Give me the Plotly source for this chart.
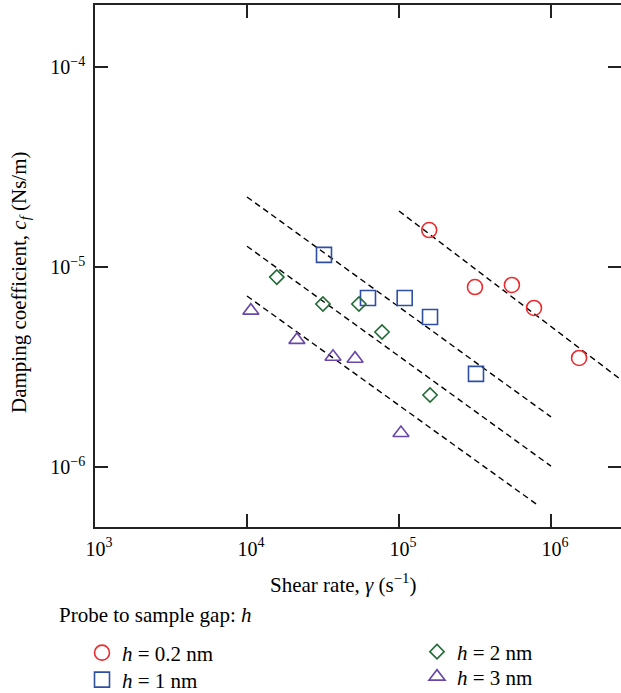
import plotly.graph_objects as go

# ---- data ----
series_names = ["<i>h</i> = 0.2 nm", "<i>h</i> = 1 nm", "<i>h</i> = 2 nm", "<i>h</i> = 3 nm"]

x_02 = [1.58e5, 3.16e5, 5.53e5, 7.73e5, 1.53e6]
y_02 = [1.53e-5, 7.94e-6, 8.13e-6, 6.24e-6, 3.51e-6]

x_1 = [3.21e4, 6.25e4, 1.09e5, 1.60e5, 3.21e5]
y_1 = [1.15e-5, 7.0e-6, 7.0e-6, 5.62e-6, 2.92e-6]

x_2 = [1.57e4, 3.16e4, 5.45e4, 7.73e4, 1.60e5]
y_2 = [8.9e-6, 6.53e-6, 6.53e-6, 4.73e-6, 2.29e-6]

x_3 = [1.06e4, 2.13e4, 3.68e4, 5.14e4, 1.03e5]
y_3 = [6.05e-6, 4.32e-6, 3.56e-6, 3.48e-6, 1.48e-6]

# dashed fit lines (start / end)
fit_x0 = [1e5, 1e4, 1e4, 1e4]
fit_x1 = [2.8e6, 1e6, 1e6, 8.34e5]
fit_y0 = [1.905e-5, 2.24e-5, 1.27e-5, 7.16e-6]
fit_y1 = [2.78e-6, 1.78e-6, 1.01e-6, 6.38e-7]

x_tickvals = [1e3, 1e4, 1e5, 1e6]
x_ticktext = ["10<sup>3</sup>", "10<sup>4</sup>", "10<sup>5</sup>", "10<sup>6</sup>"]
y_tickvals = [1e-6, 1e-5, 1e-4]
y_ticktext = ["10<sup>−6</sup>", "10<sup>−5</sup>", "10<sup>−4</sup>"]

W, H = 621, 693
FONT = "Liberation Serif"
L, R, T, B = 95, 0, 5, 166
PW, PH = W - L - R, H - T - B

red = "#ec2b2f"
blue = "#2f4fa5"
green = "#236b36"
purple = "#6a48a8"

fig = go.Figure()

for i in range(len(fit_x0)):
    fig.add_trace(go.Scatter(
        x=[fit_x0[i], fit_x1[i]], y=[fit_y0[i], fit_y1[i]], mode="lines",
        line=dict(color="black", width=1.4, dash="6px,4px"),
        showlegend=False, hoverinfo="skip"))

marker_line = 1.6
fig.add_trace(go.Scatter(x=x_02, y=y_02, mode="markers", name=series_names[0], legend="legend",
                         marker=dict(symbol="circle-open", size=15, color=red,
                                     line=dict(width=marker_line, color=red))))
fig.add_trace(go.Scatter(x=x_1, y=y_1, mode="markers", name=series_names[1], legend="legend2",
                         marker=dict(symbol="square-open", size=15, color=blue,
                                     line=dict(width=marker_line, color=blue))))
fig.add_trace(go.Scatter(x=x_2, y=y_2, mode="markers", name=series_names[2], legend="legend3",
                         marker=dict(symbol="diamond-open", size=11, color=green,
                                     line=dict(width=marker_line, color=green))))
fig.add_trace(go.Scatter(x=x_3, y=y_3, mode="markers", name=series_names[3], legend="legend4",
                         marker=dict(symbol="triangle-up-open", size=14, color=purple,
                                     line=dict(width=marker_line, color=purple))))

axis_common = dict(
    type="log", showgrid=False, zeroline=False,
    showline=True, linecolor="#222", linewidth=1.5, mirror="ticks",
    ticks="inside", ticklen=13, tickwidth=1.5, tickcolor="#222",
    tickfont=dict(family=FONT, size=20, color="black"),
)

fig.update_xaxes(range=[3, 6.4605], tickvals=x_tickvals, ticktext=x_ticktext,
                 ticklabelstandoff=3, ticklabelshift=4, **axis_common)
fig.update_yaxes(range=[-6.3, -3.69], tickvals=y_tickvals, ticktext=y_ticktext,
                 ticklabelstandoff=4, **axis_common)


def legend_at(x_left, y_center):
    return dict(xref="container", yref="container",
                x=x_left / W, xanchor="left", y=1 - y_center / H, yanchor="middle",
                font=dict(family=FONT, size=21, color="black"),
                bgcolor="rgba(0,0,0,0)", borderwidth=0)


fig.update_layout(
    width=W, height=H,
    margin=dict(l=L, r=R, t=T, b=B, autoexpand=False),
    paper_bgcolor="white", plot_bgcolor="white",
    font=dict(family=FONT, size=21, color="black"),
    legend=legend_at(82, 653),
    legend2=legend_at(82, 680),
    legend3=legend_at(417, 652),
    legend4=legend_at(417, 677),
    annotations=[
        dict(text="Shear rate, <i>γ</i> (s<sup>−1</sup>)", xref="paper", yref="paper",
             x=(343 - L) / PW, y=-(583 - (H - B)) / PH, xanchor="center", yanchor="middle",
             showarrow=False, font=dict(family=FONT, size=21)),
        dict(text="Damping coefficient, <i>c<sub>f</sub></i> (Ns/m)", xref="paper", yref="paper",
             x=-(L - 20) / PW, y=((H - B) - 283) / PH, xanchor="center", yanchor="middle",
             textangle=-90, showarrow=False, font=dict(family=FONT, size=21)),
        dict(text="Probe to sample gap: <i>h</i>", xref="paper", yref="paper",
             x=-(L - 57) / PW, y=-(615 - (H - B)) / PH, xanchor="left", yanchor="middle",
             showarrow=False, font=dict(family=FONT, size=21)),
    ],
)

fig.write_html(
    "out.html",
    config={"displayModeBar": False},
    post_script="document.body.style.margin='0';document.body.style.overflow='hidden';",
)
